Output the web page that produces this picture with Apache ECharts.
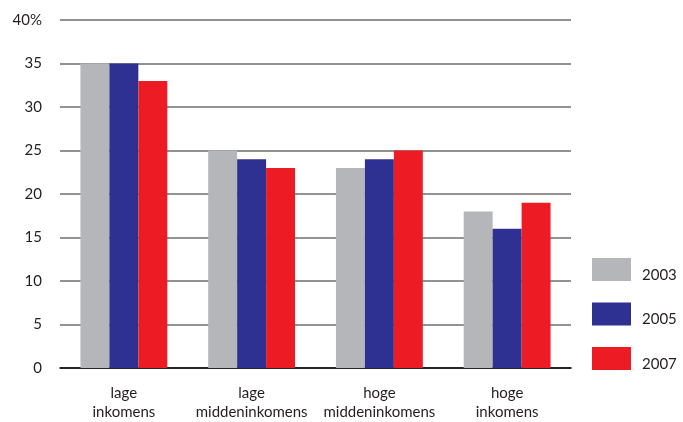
<!DOCTYPE html>
<html>
<head>
<meta charset="utf-8">
<script src="https://cdn.jsdelivr.net/npm/echarts@6/dist/echarts.min.js"></script>
<style>
  html, body { margin: 0; padding: 0; background: #fff; }
  #chart { width: 683px; height: 422px; }
</style>
</head>
<body>
<div id="chart"></div>
<script>
// Income groups and share (%) per survey year
const categories = ['lage\ninkomens', 'lage\nmiddeninkomens', 'hoge\nmiddeninkomens', 'hoge\ninkomens'];
const years = ['2003', '2005', '2007'];
const values2003 = [35, 25, 23, 18];
const values2005 = [35, 24, 24, 16];
const values2007 = [33, 23, 25, 19];
const yTicks = [0, 5, 10, 15, 20, 25, 30, 35, 40];

const colors = ['#b5b6ba', '#2e3192', '#ed1c24'];
const fontFamily = 'Lato, "Open Sans", sans-serif';
const textColor = '#231f20';

const seriesData = [values2003, values2005, values2007];

const chart = echarts.init(document.getElementById('chart'), null, { renderer: 'canvas' });

chart.setOption({
  animation: false,
  color: colors,
  grid: { left: 60, right: 112, top: 20, bottom: 50, containLabel: false },
  legend: {
    orient: 'vertical',
    left: 592,
    top: 258,
    padding: 0,
    itemWidth: 39,
    itemHeight: 23,
    itemGap: 20,
    icon: 'rect',
    data: years,
    formatter: '{y|{name}}',
    textStyle: {
      fontFamily: fontFamily,
      fontSize: 15,
      color: textColor,
      rich: {
        y: {
          fontFamily: fontFamily,
          fontSize: 15,
          color: textColor,
          padding: [11, 0, 0, 6]
        }
      }
    }
  },
  xAxis: {
    type: 'category',
    data: categories,
    axisLine: { show: true, lineStyle: { color: '#000', width: 1.5 } },
    axisTick: { show: false },
    axisLabel: {
      interval: 0,
      margin: 16,
      fontFamily: fontFamily,
      fontSize: 15,
      lineHeight: 19,
      color: textColor
    }
  },
  yAxis: {
    type: 'value',
    min: yTicks[0],
    max: yTicks[yTicks.length - 1],
    interval: 5,
    axisLine: { show: false },
    axisTick: { show: false },
    splitLine: { lineStyle: { color: '#6d6e71', width: 1.5 } },
    axisLabel: {
      margin: 18,
      fontFamily: fontFamily,
      fontSize: 15,
      color: textColor,
      formatter: v => (v === 40 ? v + '%' : String(v))
    }
  },
  series: years.map((y, i) => ({
    name: y,
    type: 'bar',
    data: seriesData[i],
    barGap: '0%',
    barCategoryGap: '32%',
    itemStyle: { color: colors[i] }
  }))
});
</script>
</body>
</html>
